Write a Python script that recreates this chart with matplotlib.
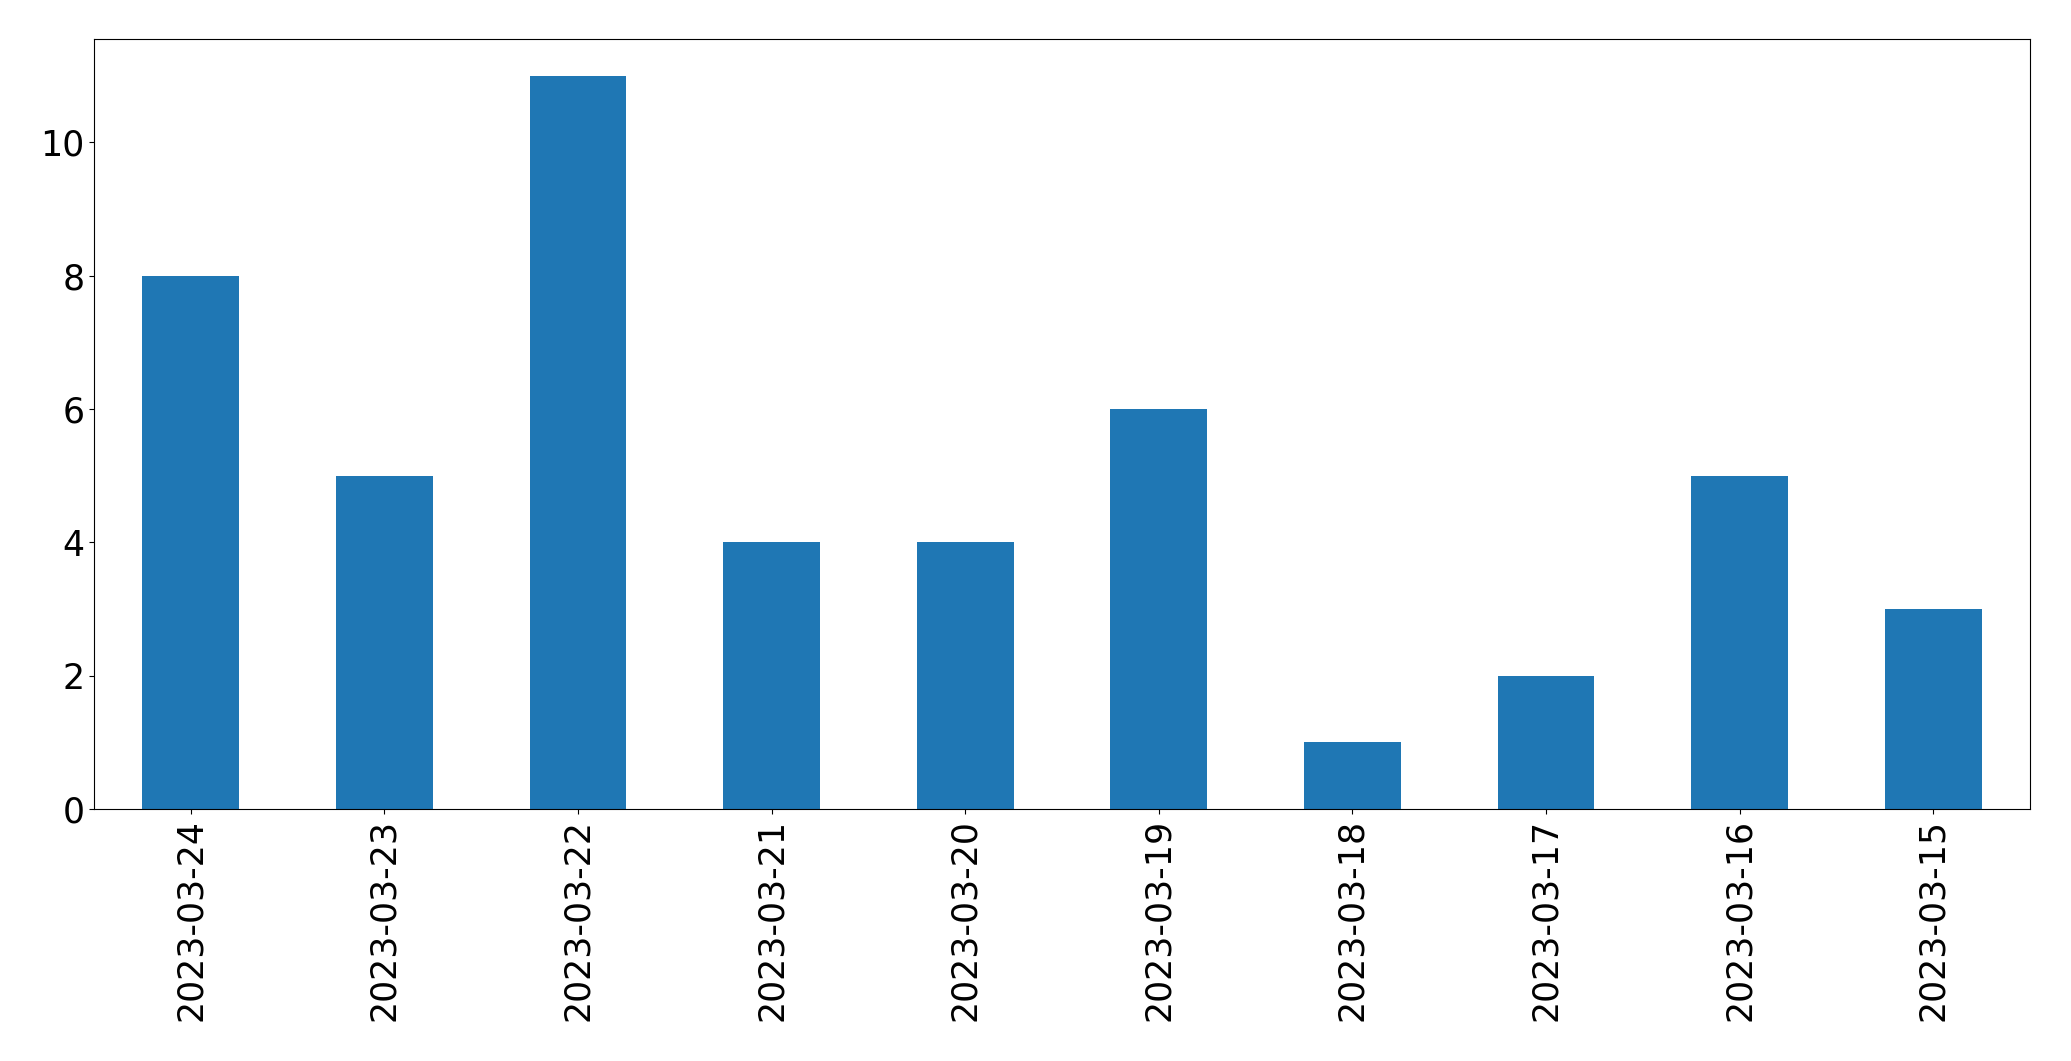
import matplotlib
matplotlib.use('Agg')
import matplotlib.pyplot as plt
import pandas as pd

# 每日数量
dates = ['2023-03-24', '2023-03-23', '2023-03-22', '2023-03-21', '2023-03-20',
         '2023-03-19', '2023-03-18', '2023-03-17', '2023-03-16', '2023-03-15']
counts = [8, 5, 11, 4, 4, 6, 1, 2, 5, 3]

plt.rcParams['font.size'] = 25

s = pd.Series(counts, index=dates)
fig = plt.figure(figsize=(20.71, 10.61), dpi=100)
ax = fig.add_axes([0.0454, 0.2375, 0.9348, 0.7257])
s.plot(kind='bar', ax=ax, color='#1f77b4')
ax.tick_params(labelsize=25)

fig.savefig('out.png', dpi=100)
plt.close('all')
